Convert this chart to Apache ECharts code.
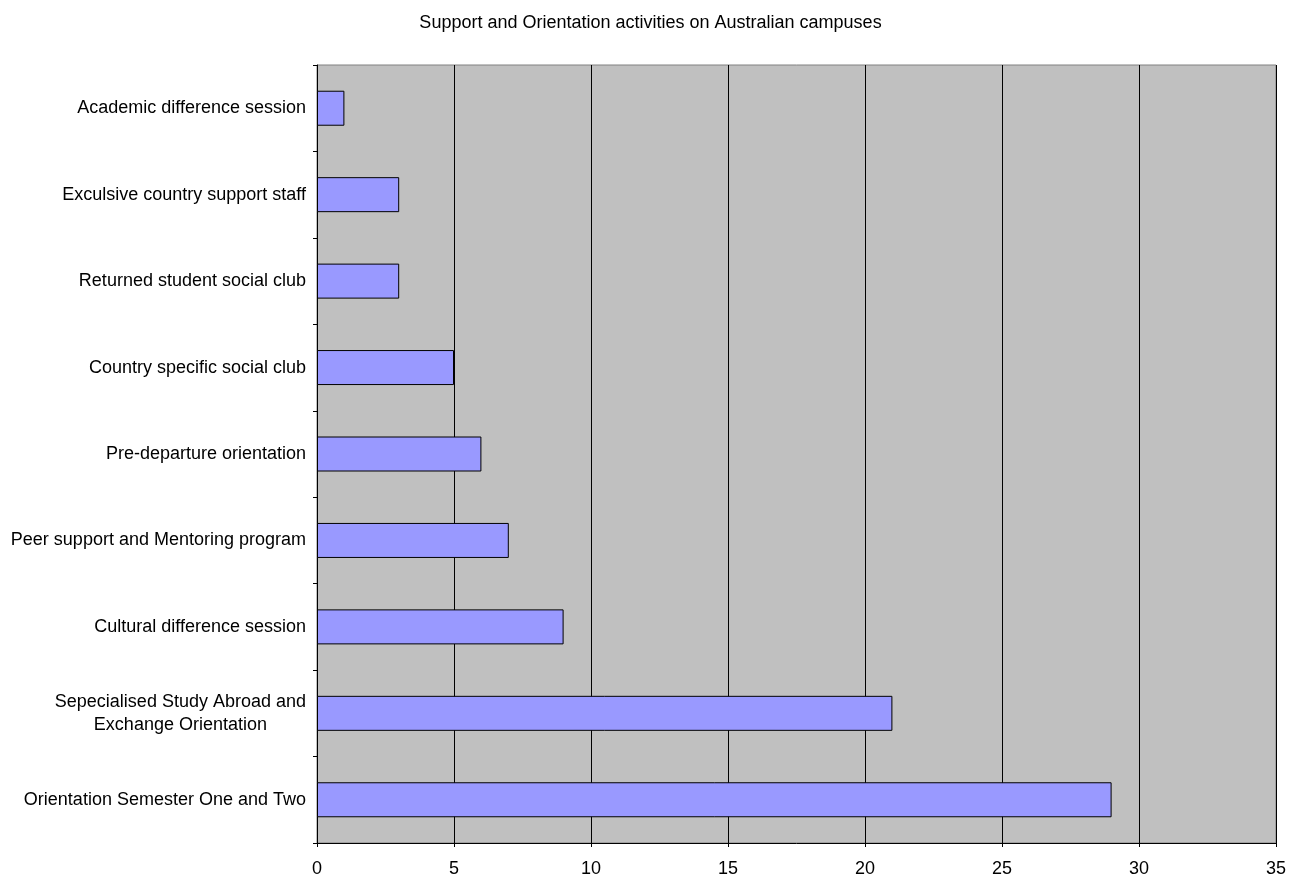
<!DOCTYPE html>
<html>
<head>
<meta charset="utf-8">
<script src="https://cdn.jsdelivr.net/npm/echarts@6/dist/echarts.min.js"></script>
<style>
html, body { margin: 0; padding: 0; background: #fff; }
#chart { width: 1301px; height: 875px; }
</style>
</head>
<body>
<div id="chart"></div>
<script>
// categories listed bottom to top, as the category axis draws them
var categories = [
	'Orientation Semester One and Two',
	'Sepecialised Study Abroad and\nExchange Orientation',
	'Cultural difference session',
	'Peer support and Mentoring program',
	'Pre-departure orientation',
	'Country specific social club',
	'Returned student social club',
	'Exculsive country support staff',
	'Academic difference session'
];
var counts = [29, 21, 9, 7, 6, 5, 3, 3, 1];
var xTicks = [0, 5, 10, 15, 20, 25, 30, 35];

var myChart = echarts.init(document.getElementById('chart'));
var fontFam = '"Liberation Sans", Arial, sans-serif';

var option = {
	backgroundColor: '#ffffff',
	animation: false,
	title: {
		text: 'Support and Orientation activities on Australian campuses',
		left: 'center',
		top: 9,
		textStyle: { fontFamily: fontFam, fontSize: 18, fontWeight: 'normal', color: '#000' }
	},
	grid: {
		left: 317, right: 25, top: 65, bottom: 32,
		outerBoundsMode: 'none',
		containLabel: false,
		show: true,
		backgroundColor: '#C0C0C0',
		borderColor: '#808080',
		borderWidth: 1
	},
	xAxis: {
		type: 'value',
		min: xTicks[0],
		max: xTicks[xTicks.length - 1],
		interval: 5,
		axisLine: { show: true, lineStyle: { color: '#000', width: 1 } },
		axisTick: { show: true, length: 4, lineStyle: { color: '#000' } },
		axisLabel: { margin: 17, color: '#000', fontFamily: fontFam, fontSize: 18 },
		splitLine: { show: true, lineStyle: { color: '#000', width: 1 } }
	},
	yAxis: {
		type: 'category',
		data: categories,
		axisLine: { show: true, lineStyle: { color: '#000', width: 1 } },
		axisTick: { show: true, length: 4, lineStyle: { color: '#000' } },
		axisLabel: {
			margin: 11,
			color: '#000',
			fontFamily: fontFam,
			fontSize: 18,
			lineHeight: 23,
			formatter: function (v) {
				if (v.indexOf('\n') < 0) return v;
				return v.split('\n').map(function (s) { return '{c|' + s + '}'; }).join('\n');
			},
			rich: {
				c: { align: 'center', fontFamily: fontFam, fontSize: 18, lineHeight: 23, color: '#000' }
			}
		}
	},
	series: [{
		type: 'bar',
		data: counts,
		barWidth: 35,
		itemStyle: { color: '#9999FF', borderColor: '#000', borderWidth: 1 }
	}]
};
myChart.setOption(option);
</script>
</body>
</html>
